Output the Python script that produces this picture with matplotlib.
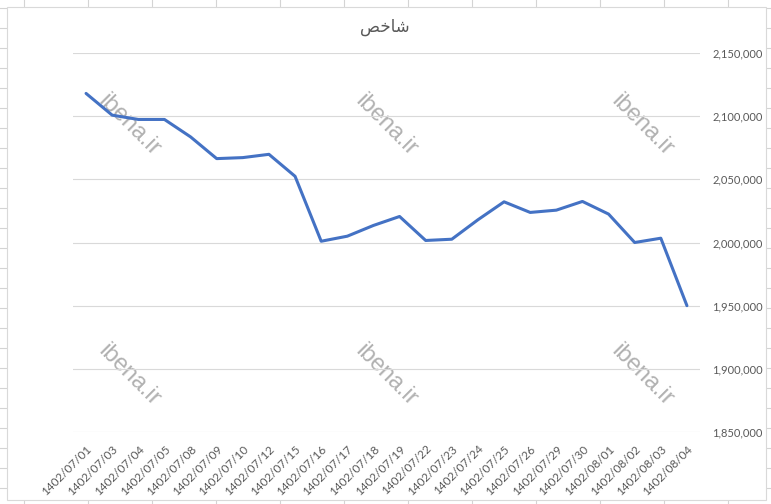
import matplotlib
matplotlib.use("Agg")
import matplotlib.pyplot as plt
from matplotlib.patches import Rectangle
from matplotlib.ticker import FuncFormatter

# data
dates = ["1402/07/01", "1402/07/03", "1402/07/04", "1402/07/05", "1402/07/08",
         "1402/07/09", "1402/07/10", "1402/07/12", "1402/07/15", "1402/07/16",
         "1402/07/17", "1402/07/18", "1402/07/19", "1402/07/22", "1402/07/23",
         "1402/07/24", "1402/07/25", "1402/07/26", "1402/07/29", "1402/07/30",
         "1402/08/01", "1402/08/02", "1402/08/03", "1402/08/04"]
shakhes = [2118000, 2100800, 2097400, 2097400, 2083600, 2066400, 2067200, 2069800,
           2052400, 2001000, 2005000, 2013500, 2020600, 2001600, 2002600, 2018000,
           2032200, 2023800, 2025600, 2032500, 2022500, 2000000, 2003400, 1950000]
yticks = [1850000, 1900000, 1950000, 2000000, 2050000, 2100000, 2150000]

# title "شاخص" written in presentation forms, visual order (no arabic shaping in mpl)
title = "\uFEBA\uFEA7\uFE8E\uFEB7"

W, H = 771, 504
fig = plt.figure(figsize=(W / 100, H / 100), dpi=100)

# excel sheet grid behind the chart
bg = fig.add_axes([0, 0, 1, 1], zorder=0)
bg.set_xlim(0, W)
bg.set_ylim(H, 0)
bg.axis("off")
for x in range(24, W, 64):
    bg.axvline(x, color="#d4d4d4", lw=0.8, zorder=1)
for y in range(8, H, 20):
    bg.axhline(y, color="#d4d4d4", lw=0.8, zorder=1)
bg.add_patch(Rectangle((7, 7), 759, 493, facecolor="white", edgecolor="#d9d9d9",
                       lw=0.8, zorder=3))

# watermarks
for wx in [129, 386, 642]:
    for wy in [125, 375]:
        bg.text(wx, wy, "ibena.ir", rotation=-45, ha="center", va="center",
                fontsize=17, color="#909090", alpha=0.7, family="Liberation Sans",
                zorder=4)

bg.text(385, 27, title, ha="center", va="center", fontsize=12,
        color="#595959", family="DejaVu Sans", zorder=4)

ax = fig.add_axes([73 / W, (H - 432) / H, 627 / W, 379 / H], zorder=1)
ax.patch.set_alpha(0)
xs = list(range(len(dates)))
ax.plot(xs, shakhes, color="#4472C4", lw=2.2, solid_capstyle="round", zorder=3)

ax.set_xlim(-0.5, len(dates) - 0.5)
ax.set_ylim(1850000, 2150000)
ax.set_yticks(yticks)
ax.yaxis.set_major_formatter(FuncFormatter(lambda v, p: f"{int(v):,}"))
ax.yaxis.tick_right()
ax.grid(axis="y", color="#d9d9d9", lw=0.8)
ax.set_axisbelow(True)
for s in ax.spines.values():
    s.set_visible(False)
ax.tick_params(axis="both", length=0, colors="#595959", labelsize=8)
ax.tick_params(axis="y", pad=9)
ax.tick_params(axis="x", pad=8, labelsize=8.5)
ax.set_xticks(xs)
ax.set_xticklabels(dates, rotation=45, ha="right", rotation_mode="anchor",
                   family="Lato")
for lab in ax.get_yticklabels():
    lab.set_family("Lato")

fig.savefig("out.png", dpi=100)
